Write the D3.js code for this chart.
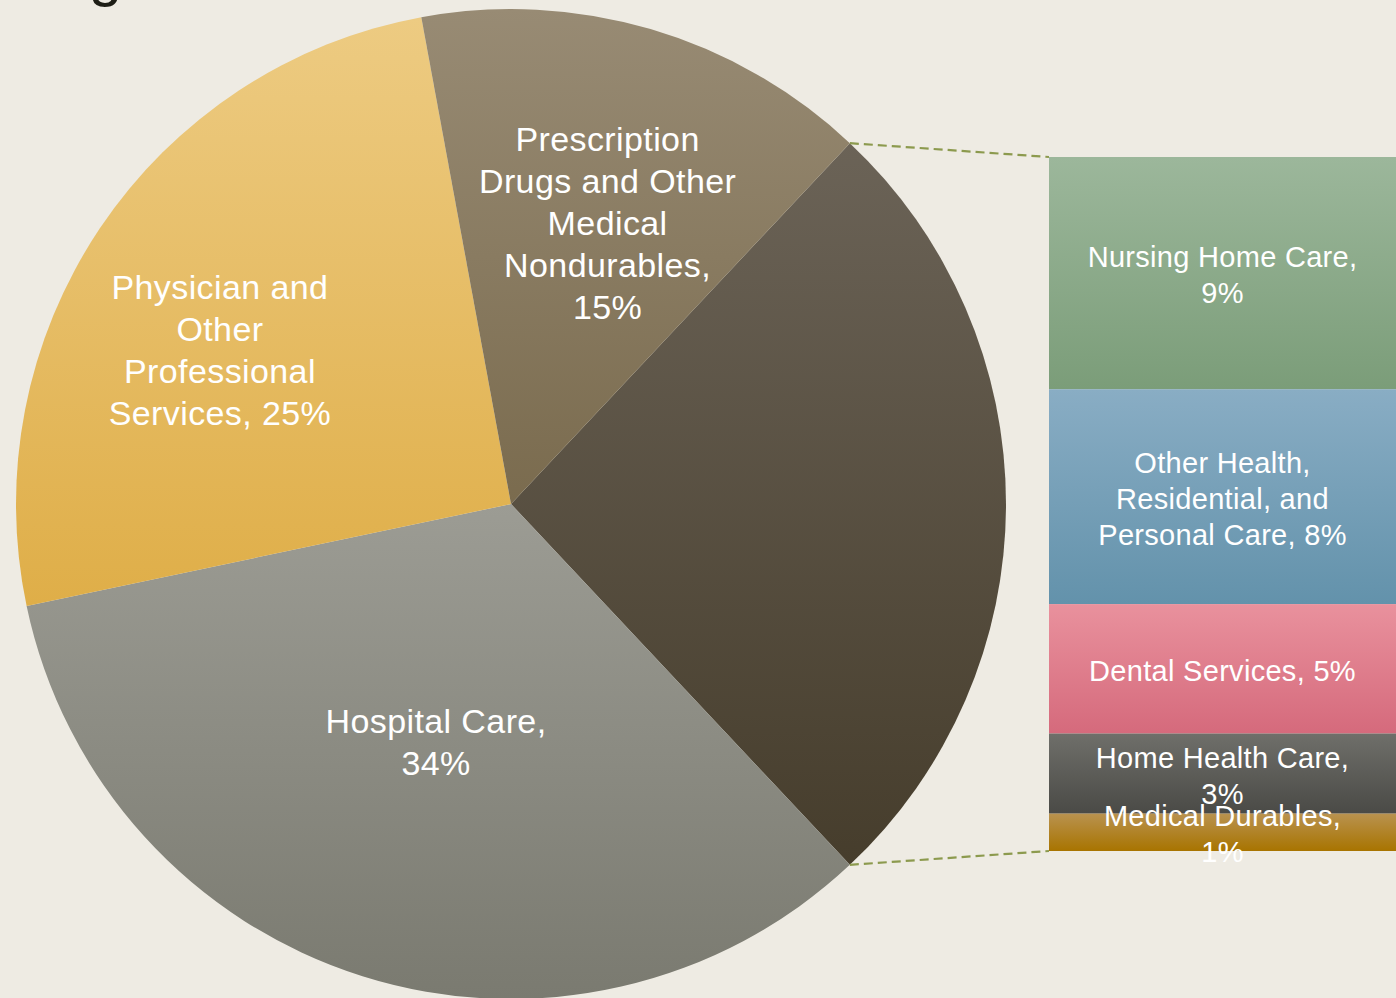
<!DOCTYPE html>
<html>
<head>
<meta charset="utf-8">
<script src="https://cdn.jsdelivr.net/npm/d3@7"></script>
<style>
  html, body { margin: 0; padding: 0; background: #eeebe3; overflow: hidden; }
  svg { display: block; }
</style>
</head>
<body>
<svg id="chart" width="1396" height="998"></svg>
<script>
// ---------- DATA ----------
const titleText = "Healthcare Spending";

// main pie (clockwise, starting with the aggregated "Other" slice)
const mainCategories = ["Other", "Hospital Care", "Physician and Other Professional Services", "Prescription Drugs and Other Medical Nondurables"];
const mainValues = [null, 33.7, 25.4, 14.9]; // "Other" = sum of sub values
const mainLabelLines = [
  null,
  ["Hospital Care,", "{p}"],
  ["Physician and", "Other", "Professional", "Services, {p}"],
  ["Prescription", "Drugs and Other", "Medical", "Nondurables,", "{p}"]
];

// bar (breakdown of "Other")
const subCategories = ["Nursing Home Care", "Other Health, Residential, and Personal Care", "Dental Services", "Home Health Care", "Medical Durables"];
const subValues = [8.7, 8.05, 4.85, 3.0, 1.4];
const subLabelLines = [
  ["Nursing Home Care,", "{p}"],
  ["Other Health,", "Residential, and", "Personal Care, {p}"],
  ["Dental Services, {p}"],
  ["Home Health Care,", "{p}"],
  ["Medical Durables,", "{p}"]
];

// ---------- STYLE ----------
const mainColors = [
  ["#6b6357", "#463d2c"],
  ["#9c9c94", "#7a7a70"],
  ["#edcb82", "#dfae48"],
  ["#988b74", "#7a6b4e"]
];
const subColors = [
  ["#9cb79b", "#7b9d79"],
  ["#89adc4", "#6392ab"],
  ["#e9919d", "#d56a7c"],
  ["#6f6f6a", "#4a4a46"],
  ["#b9924f", "#a87400"]
];

const svg = d3.select("#chart");
const defs = svg.append("defs");
function grad(id, c) {
  const g = defs.append("linearGradient").attr("id", id)
    .attr("x1", 0).attr("y1", 0).attr("x2", 0).attr("y2", 1);
  g.append("stop").attr("offset", "0%").attr("stop-color", c[0]);
  g.append("stop").attr("offset", "100%").attr("stop-color", c[1]);
}
mainColors.forEach((c, i) => grad("mg" + i, c));
subColors.forEach((c, i) => grad("sg" + i, c));

// title (mostly above the visible area)
svg.append("text")
  .attr("x", 122).attr("y", -5)
  .attr("text-anchor", "end")
  .attr("font-family", "Liberation Sans, Arial, sans-serif")
  .attr("font-size", 60)
  .attr("fill", "#1e1e16")
  .text(titleText);

// ---------- PIE ----------
const cx = 511, cy = 504, R = 495;
const otherTotal = d3.sum(subValues);
const values = mainValues.map((v, i) => i === 0 ? otherTotal : v);
const total = d3.sum(values);
const otherAngle = 2 * Math.PI * otherTotal / total;
const startA = Math.PI / 2 - otherAngle / 2;

const pie = d3.pie().sort(null).value(d => d)
  .startAngle(startA).endAngle(startA + 2 * Math.PI);
const arcs = pie(values);
const arc = d3.arc().innerRadius(0).outerRadius(R);

const pg = svg.append("g").attr("transform", `translate(${cx},${cy})`);
pg.selectAll("path.slice").data(arcs).enter().append("path")
  .attr("class", "slice")
  .attr("d", arc)
  .attr("fill", (d, i) => `url(#mg${i})`);

// label layout (radius factor, angle tweak in degrees)
const labelLayout = [null, [0.505, 0], [0.665, -6], [0.6, 2.6]];
const fontFam = "Liberation Sans, Arial, sans-serif";
arcs.forEach((a, i) => {
  if (!mainLabelLines[i]) return;
  const mid = (a.startAngle + a.endAngle) / 2 + labelLayout[i][1] * Math.PI / 180;
  const rr = R * labelLayout[i][0];
  const px = Math.sin(mid) * rr, py = -Math.cos(mid) * rr;
  const pct = Math.round(a.data / total * 100) + "%";
  const lines = mainLabelLines[i].map(s => s.replace("{p}", pct));
  const lh = 42;
  const t = pg.append("text")
    .attr("text-anchor", "middle")
    .attr("font-family", fontFam)
    .attr("font-size", 34)
    .attr("letter-spacing", 0.4)
    .attr("fill", "#ffffff");
  lines.forEach((s, k) => {
    t.append("tspan").attr("x", px)
      .attr("y", py + (k - (lines.length - 1) / 2) * lh)
      .attr("dy", "0.35em")
      .text(s);
  });
});

// ---------- BAR ----------
const barX = 1049, barW = 1396 - 1049;
const y = d3.scaleLinear().domain([0, otherTotal]).range([157, 851]);
const cum = [];
let acc = 0;
subValues.forEach(v => { cum.push([acc, acc + v]); acc += v; });

const bg = svg.append("g");
bg.selectAll("rect").data(cum).enter().append("rect")
  .attr("x", barX).attr("width", barW)
  .attr("y", d => y(d[0]))
  .attr("height", d => y(d[1]) - y(d[0]))
  .attr("fill", (d, i) => `url(#sg${i})`);

cum.forEach((d, i) => {
  const pct = Math.round(subValues[i]) + "%";
  const lines = subLabelLines[i].map(s => s.replace("{p}", pct));
  const lh = 36;
  const mx = barX + barW / 2, my = (y(d[0]) + y(d[1])) / 2 + 2;
  const t = bg.append("text")
    .attr("text-anchor", "middle")
    .attr("font-family", fontFam)
    .attr("font-size", 29)
    .attr("letter-spacing", 0.3)
    .attr("fill", "#ffffff");
  lines.forEach((s, k) => {
    t.append("tspan").attr("x", mx)
      .attr("y", my + (k - (lines.length - 1) / 2) * lh)
      .attr("dy", "0.35em")
      .text(s);
  });
});

// ---------- CONNECTORS ----------
const a0 = arcs[0].startAngle, a1 = arcs[0].endAngle;
const p0 = [cx + Math.sin(a0) * R, cy - Math.cos(a0) * R];
const p1 = [cx + Math.sin(a1) * R, cy - Math.cos(a1) * R];
const conn = [[p0, [barX, y(0)]], [p1, [barX, y(otherTotal)]]];
svg.selectAll("line.conn").data(conn).enter().append("line")
  .attr("class", "conn")
  .attr("x1", d => d[0][0]).attr("y1", d => d[0][1])
  .attr("x2", d => d[1][0]).attr("y2", d => d[1][1])
  .attr("stroke", "#8c9a4e")
  .attr("stroke-width", 2.2)
  .attr("stroke-dasharray", "9,5");
</script>
</body>
</html>
